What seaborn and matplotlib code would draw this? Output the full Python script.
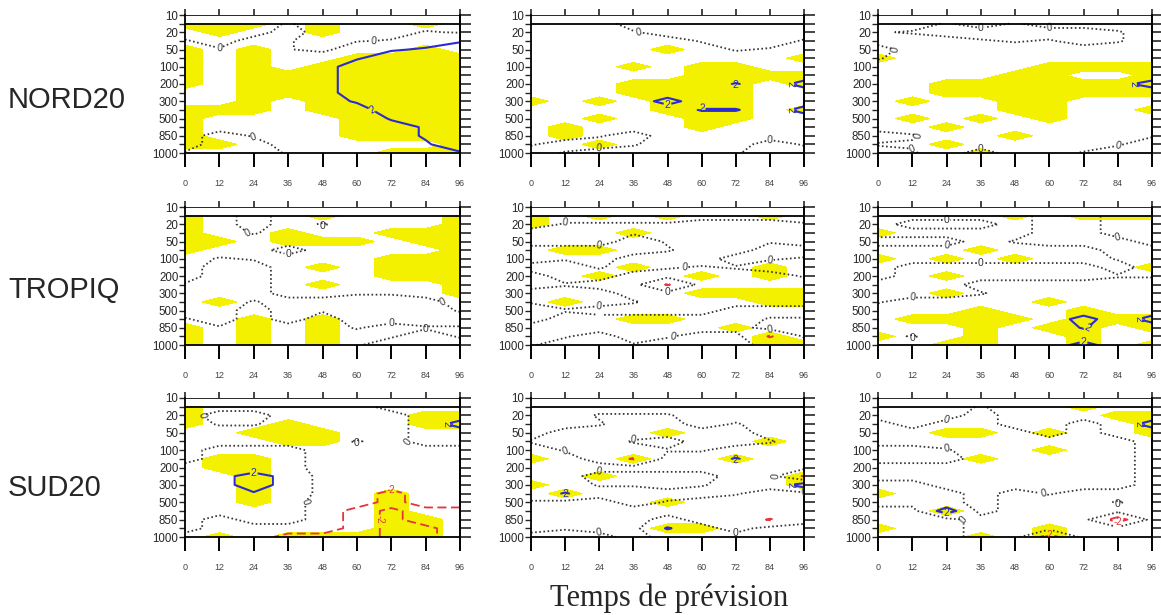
import numpy as np
import matplotlib
matplotlib.use("Agg")
import matplotlib.pyplot as plt
import seaborn as sns

sns.set_theme(style="ticks")
plt.rcParams['font.family'] = ['Liberation Sans', 'DejaVu Sans']

# ---------------- data ----------------
hours = [0, 12, 24, 36, 48, 60, 72, 84, 96]
levels_hpa = [10, 15, 20, 30, 50, 70, 100, 150, 200, 250, 300, 400, 500, 700, 850, 925, 1000]
level_labels = ['10', '', '20', '', '50', '', '100', '', '200', '', '300', '', '500', '', '850', '', '1000']
regions = ['NORD20', 'TROPIQ', 'SUD20']
xlabel = 'Temps de prévision'

# field codes (anomaly values): N=-3, M=-2.2, n=-1.5, -=-0.5, b=-0.1, a=0.1, +=0.5, h=1.2, q=1.8, Q=2.2, P=3
code_values = {'N': -3.0, 'M': -2.2, 'n': -1.5, '-': -0.5, 'b': -0.1, 'a': 0.1,
               '+': 0.5, 'h': 1.2, 'q': 1.8, 'Q': 2.2, 'P': 3.0}

# rows: 15 hPa ... 1000 hPa ; columns: 0 ... 96 h ; '1' = significant (yellow)
sig_nord20_1 = ["111010010", "010010000", "000000000", "101000010", "101001111", "101011111",
                "101111111", "101111111", "001111111", "001011111", "111011111", "100001111",
                "100001111", "100001111", "110000001", "000000111"]
anom_nord20_1 = ["---a-----", "---+---ab", "a-+a-bahq", "+a+a-hqQP", "++++hqPPP", "++++hPPPP",
                 "++++hPPPP", "++++hPPPP", "++++hPPPP", "++++hQPPP", "+++++hPPP", "++++++QPP",
                 "++++++hQP", "+-a+++hQP", "+--+++hqP", "b--a++hqq"]

sig_nord20_2 = ["000000000", "000000000", "000000000", "000010000", "000000001", "000101100",
                "000001111", "000111101", "000111100", "101011100", "000011101", "001001100",
                "010001000", "010000000", "001000000", "000000000"]
anom_nord20_2 = ["+++------", "+++a-----", "+++++b--a", "++++++ba+", "+++++++++", "+++++++++",
                 "+++++++++", "++++++Q+P", "+++++++++", "++++P++++", "+++++QQ+P", "+++++++++",
                 "+++++++++", "++a-+++++", "a--b+++-a", "-a++a+a--"]

sig_nord20_3 = ["000000000", "000000000", "000000000", "000000000", "100000000", "000001111",
                "000011001", "001111111", "001111111", "010011000", "000011001", "010101000",
                "001000000", "000010000", "001000000", "000100000"]
anom_nord20_3 = ["++b+b++++", "ab-----b+", "+++aba-b+", "-++++++++", "b++++++++", "+++++++++",
                 "+++++++++", "+++++++hP", "+++++++++", "+++++++++", "+++++++++", "+++++++++",
                 "+++++++++", "-b++++++a", "aa+++++a-", "-b+-++b--"]

sig_tropiq_1 = ["100010001", "100000001", "100100111", "110111011", "100000001", "000000111",
                "000010111", "000000111", "000010001", "000000001", "010000000", "000000000",
                "001010000", "101010000", "101010000", "101010000"]
anom_tropiq_1 = ["++-++++++", "++-+b++++", "++b++++++", "+++++++++", "+++-+++++", "+ba++++++",
                 "+--++++++", "+--++++++", "b--++++++", "---++aa++", "--a-----+", "--+-b---a",
                 "a-+-+----", "+a+++b+aa", "++++++a-a", "+++++a---"]

sig_tropiq_2 = ["101010010", "100000000", "000100000", "000000000", "011000000", "000000000",
                "000100010", "001001010", "000000000", "000001111", "010000011", "000000000",
                "000110000", "000000100", "000000010", "000000011"]
anom_tropiq_2 = ["+++++++++", "+bbbb---b", "---b-----", "---+b--b-", "++++a--++", "+a+---+ab",
                 "--a-bab--", "+--+++++b", "+a++M++++", "---++++++", "b--b+++++", "+a++++---",
                 "+------aa", "-------++", "-b+-b++Ma", "b++a+++--"]

sig_tropiq_3 = ["000010111", "000000000", "100000000", "000000000", "000100000", "101010000",
                "000000001", "001000000", "000000000", "001000000", "000001000", "000100100",
                "011110111", "000101101", "100100100", "001100101"]
anom_tropiq_3 = ["+++++--++", "+---+--++", "+++++--++", "---+b---+", "+++++++--", "+++++++b-",
                 "+------+-", "+------bb", "---++++++", "---b+++++", "b++++++++", "+++++++++",
                 "++++++P+P", "++++++Q++", "+b+++++++", "++++++P++"]

sig_sud20_1 = ["100000000", "100000011", "100100011", "001110000", "000110000", "000000000",
               "011000000", "011000000", "001000000", "001000000", "001000100", "001000100",
               "000000100", "000000110", "000000110", "010111110"]
anom_sud20_1 = ["------+++", "-++----++", "-aa----+P", "-------++", "-----a-++", "-+++-----",
                "-+++-----", "++++-----", "+hPh-----", "+hPh-----", "+hqh--N--", "++++--N--",
                "++++-NnNN", "+-++-NnNN", "+----NnnN", "---NNNnnN"]

sig_sud20_2 = ["000000000", "000000000", "000000000", "000010000", "000000010", "000000000",
               "100100100", "000000000", "001000001", "100000001", "010000000", "000010000",
               "000000000", "000000000", "000011000", "000000000"]
anom_sud20_2 = ["+++++++++", "++bbb++++", "++a--+b++", "+------++", "b--a+--b+", "+b--bb+++",
                "++-M++Q++", "+++++++++", "++----++M", "++bb-b++P", "+Q++++a--", "b--+b----",
                "---------", "----+--M-", "-b--Q+-++", "+++-+++++"]

sig_sud20_3 = ["000000100", "000000011", "000000001", "001101001", "000000000", "000001000",
               "000100000", "000000000", "000000000", "000000000", "100000000", "000000000",
               "001000000", "000000000", "100001000", "000101000"]
anom_sud20_3 = ["+++b+++++", "+++-+++++", "-+--++-+P", "-----+-++", "--------+", "++a-----+",
                "+++-----+", "--------+", "--------+", "++------+", "+++-+b+++", "+++-+++b+",
                "--P-+++++", "---++++N+", "---++++++", "---++N+++"]

sig_panels = [[sig_nord20_1, sig_nord20_2, sig_nord20_3],
              [sig_tropiq_1, sig_tropiq_2, sig_tropiq_3],
              [sig_sud20_1, sig_sud20_2, sig_sud20_3]]
anom_panels = [[anom_nord20_1, anom_nord20_2, anom_nord20_3],
               [anom_tropiq_1, anom_tropiq_2, anom_tropiq_3],
               [anom_sud20_1, anom_sud20_2, anom_sud20_3]]

# ---------------- layout ----------------
W, H = 1161, 615
col_px = [(185, 460), (531, 804), (878, 1152)]
row_px = [(15, 153), (207, 345), (398, 537)]
row_label_y = [100, 290, 488]

YELLOW = '#f3f000'
BLUE = '#2b2bd0'
RED = '#e8323c'
DOT = '#353535'

fig = plt.figure(figsize=(W / 100, H / 100), dpi=100)

lev_idx = np.arange(1, len(levels_hpa))
X, Y = np.meshgrid(hours, lev_idx)

label_groups = []

for i, reg in enumerate(regions):
    for j in range(3):
        x0, x1 = col_px[j]
        y0, y1 = row_px[i]
        ax = fig.add_axes([x0 / W, 1 - y1 / H, (x1 - x0) / W, (y1 - y0) / H])
        mask = np.array([[int(c) for c in r] for r in sig_panels[i][j]], dtype=float)
        z = np.array([[code_values[c] for c in r] for r in anom_panels[i][j]])

        labels = []
        ax.contourf(X, Y, mask, levels=[0.5, 1.5], colors=[YELLOW])
        if z.max() > 2:
            cp = ax.contour(X, Y, z, levels=[2], colors=BLUE, linewidths=1.5)
            labels += ax.clabel(cp, fmt={2: '2'}, fontsize=7.5, inline=True, inline_spacing=1)
        if z.min() < -2:
            cm = ax.contour(X, Y, z, levels=[-2], colors=RED, linewidths=1.3,
                            linestyles=[(0, (5, 2.5))])
            labels += ax.clabel(cm, fmt={-2: '-2'}, fontsize=7, inline=True, inline_spacing=1)
        c0 = ax.contour(X, Y, z, levels=[0], colors=DOT, linewidths=1.3,
                        linestyles=[(0, (0.9, 1.4))])
        labels += ax.clabel(c0, fmt={0: '0'}, fontsize=7.5, inline=True, inline_spacing=1)
        label_groups.append(labels)

        ax.axhline(1, color='black', lw=1.3, zorder=5)
        ax.set_xlim(0, 96)
        ax.set_ylim(16, 0)

        for side in ['left', 'right', 'bottom']:
            ax.spines[side].set_color('black')
            ax.spines[side].set_linewidth(1.3)
        ax.spines['top'].set_visible(False)

        ax.set_xticks(hours)
        ax.set_xticklabels([str(h) for h in hours], fontsize=6.5, color='#444444')
        ax.tick_params(axis='x', which='major', direction='out', length=10, width=1.4,
                       pad=9, bottom=True, top=False, colors='black', labelcolor='#444444')
        ax.set_yticks(range(len(levels_hpa)))
        ax.set_yticklabels(level_labels, fontsize=8.3)
        ax.tick_params(axis='y', direction='out', length=4, width=1.0, pad=0.8,
                       left=True, right=False)

        top = ax.secondary_xaxis('top')
        top.set_xticks(hours)
        top.set_xticklabels([])
        top.tick_params(direction='out', length=4, width=1.2)
        top.spines['top'].set_linewidth(0.7)

        right = ax.secondary_yaxis('right')
        right.set_yticks(range(len(levels_hpa)))
        right.set_yticklabels([])
        right.tick_params(direction='out', length=8, width=1.2)
        right.spines['right'].set_linewidth(1.3)

        ax.set_xlabel('')
        ax.set_ylabel('')

    fig.text(8 / W, 1 - row_label_y[i] / H, reg, ha='left', va='center',
             fontsize=21, family=['Liberation Sans', 'DejaVu Sans'])

fig.text(669 / W, 1 - 598 / H, xlabel, ha='center', va='center', fontsize=22,
         family=['Liberation Serif', 'DejaVu Serif'])

# drop contour labels that would collide with an earlier one in the same panel
fig.canvas.draw()
renderer = fig.canvas.get_renderer()
for labels in label_groups:
    kept = []
    for t in labels:
        bb = t.get_window_extent(renderer).expanded(1.15, 1.15)
        if any(bb.overlaps(k) for k in kept):
            t.set_visible(False)
        else:
            kept.append(bb)

fig.savefig('out.png', dpi=100, facecolor='white')
